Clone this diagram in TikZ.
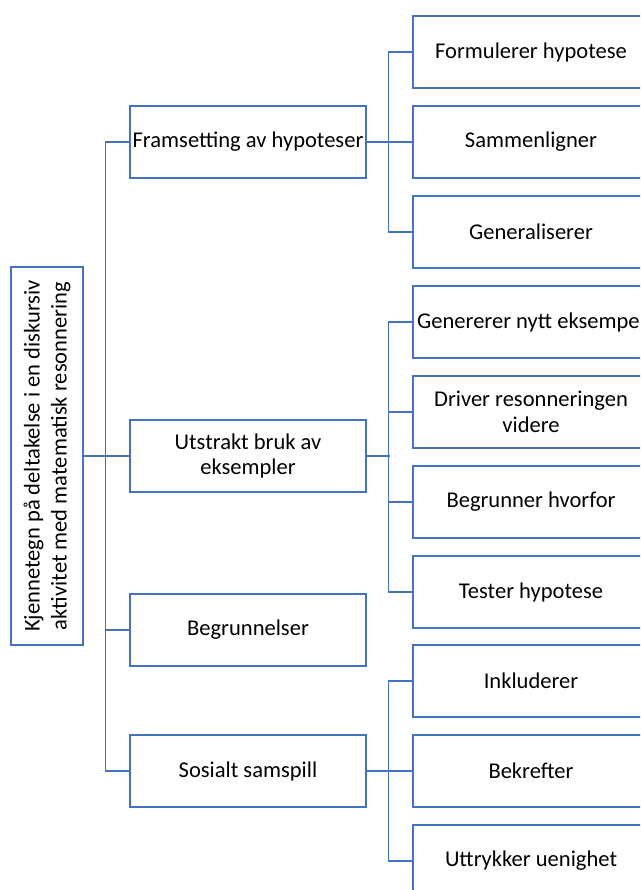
\documentclass[tikz,border=0pt]{standalone}
\usepackage{fontspec}
\setmainfont{Carlito}
\definecolor{lineblue}{HTML}{4472C4}
\begin{document}
\begin{tikzpicture}[x=0.75pt, y=-0.75pt,
  box/.style={draw=lineblue, line width=1pt, fill=white,
    minimum width=177pt, minimum height=54pt, inner sep=0pt,
    align=center, font=\fontsize{16.9}{19.3}\selectfont},
  rootbox/.style={box, rotate=90, minimum width=283.5pt, minimum height=54pt,
    font=\fontsize{16.9}{20.3}\selectfont},
  link/.style={draw=lineblue, line width=1pt}]
\useasboundingbox (0,0) rectangle (640,890);
\clip (0,0) rectangle (640,890);

% root
\node[rootbox] (root) at (47,456) {Kjennetegn på deltakelse i en diskursiv\\aktivitet med matematisk resonnering};

% first level
\node[box] (f) at (248,142) {Framsetting av hypoteser};
\node[box] (u) at (248,456) {Utstrakt bruk av\\eksempler};
\node[box] (b) at (248,630) {Begrunnelser};
\node[box] (s) at (248,771) {Sosialt samspill};

% second level
\node[box] (f1) at (531,52)  {Formulerer hypotese};
\node[box] (f2) at (531,142) {Sammenligner};
\node[box] (f3) at (531,232) {Generaliserer};
\node[box] (u1) at (531,322) {Genererer nytt eksempel};
\node[box] (u2) at (531,412) {Driver resonneringen\\videre};
\node[box] (u3) at (531,502) {Begrunner hvorfor};
\node[box] (u4) at (531,592) {Tester hypotese};
\node[box] (s1) at (531,681) {Inkluderer};
\node[box] (s2) at (531,771) {Bekrefter};
\node[box] (s3) at (531,861) {Uttrykker uenighet};

% root to first level
\draw[link] (root.south) -- (u.west);
\draw[link] (f.west) -- ++(-24,0) |- (s.west);
\draw[link] (b.west) -- ++(-24,0);

% hypotheses group
\draw[link] (f.east) -- (f2.west);
\draw[link] (f1.west) -- ++(-24,0) |- (f3.west);

% examples group
\draw[link] (u.east) -- ++(23,0);
\draw[link] (u1.west) -- ++(-24,0) |- (u4.west);
\draw[link] (u2.west) -- ++(-24,0);
\draw[link] (u3.west) -- ++(-24,0);

% social group
\draw[link] (s.east) -- (s2.west);
\draw[link] (s1.west) -- ++(-24,0) |- (s3.west);
\end{tikzpicture}
\end{document}
